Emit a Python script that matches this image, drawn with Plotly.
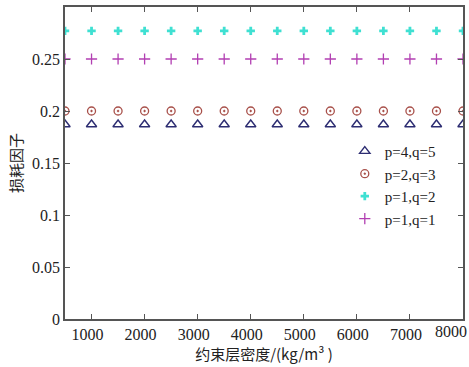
import plotly.graph_objects as go

density = [500, 1000, 1500, 2000, 2500, 3000, 3500, 4000, 4500, 5000, 5500, 6000, 6500, 7000, 7500, 8000]
loss_p4q5 = [0.187] * 16
loss_p2q3 = [0.200] * 16
loss_p1q2 = [0.277] * 16
loss_p1q1 = [0.250] * 16

x_ticks = [1000, 2000, 3000, 4000, 5000, 6000, 7000, 8000]
x_ticklabels = ["1000", "2000", "3000", "4000", "5000", "6000", "7000", "8000"]
y_ticks = [0, 0.05, 0.1, 0.15, 0.2, 0.25]
y_ticklabels = ["0", "0.05", "0.1", "0.15", "0.2", "0.25"]

SERIF = "Times New Roman, Liberation Serif, DejaVu Serif, serif"
CJK = "Noto Sans CJK SC, sans-serif"

fig = go.Figure()
fig.add_trace(go.Scatter(x=density, y=loss_p4q5, mode="markers", name="p=4,q=5",
                         marker=dict(symbol="triangle-up-open", size=9, color="#2d2d72", line=dict(width=1.4))))
fig.add_trace(go.Scatter(x=density, y=loss_p2q3, mode="markers", name="p=2,q=3",
                         marker=dict(symbol="circle-open-dot", size=8, color="#a8504a", line=dict(width=1.3))))
fig.add_trace(go.Scatter(x=density, y=loss_p1q2, mode="markers", name="p=1,q=2",
                         marker=dict(symbol="cross", size=7, color="#3fe0d2", line=dict(width=0))))
fig.add_trace(go.Scatter(x=density, y=loss_p1q1, mode="markers", name="p=1,q=1",
                         marker=dict(symbol="cross-thin-open", size=8, color="#b23fb2", line=dict(width=1.3))))

tick_font = dict(family=SERIF, size=16, color="#222222")
axis_common = dict(showline=True, linecolor="#555555", linewidth=1.5, mirror="ticks",
                   ticks="inside", ticklen=5, tickcolor="#555555", showgrid=False, zeroline=False,
                   automargin=False, tickfont=tick_font)

# the last tick label sits flush against the right edge (as in the reference), so draw it as an
# annotation anchored on the axis value; the others are regular tick labels
fig.update_xaxes(range=[500, 8000], tickvals=x_ticks, ticktext=x_ticklabels[:-1] + [""],
                 ticklabelshift=-4,
                 title=dict(text="约束层密度/(kg/m³ )", font=dict(family=CJK, size=15, color="#222222"), standoff=2),
                 **axis_common)
fig.update_yaxes(range=[0, 0.3], tickvals=y_ticks, ticktext=y_ticklabels,
                 title=dict(text="损耗因子", font=dict(family=CJK, size=15, color="#222222"), standoff=6),
                 **axis_common)

fig.add_annotation(x=x_ticks[-1], xref="x", y=0, yref="paper", text=x_ticklabels[-1],
                   showarrow=False, xanchor="right", yanchor="top", xshift=5, yshift=-3,
                   font=tick_font, borderpad=0)

fig.update_layout(
    width=469, height=367,
    margin=dict(l=65, r=6, t=7, b=48, autoexpand=False),
    paper_bgcolor="white", plot_bgcolor="white",
    showlegend=True,
    legend=dict(x=0.703, y=0.59, xanchor="left", yanchor="top",
                bgcolor="rgba(255,255,255,0.8)", borderwidth=0,
                font=dict(family=SERIF, size=15, color="#222222"),
                tracegroupgap=0, itemsizing="trace"),
)

fig.write_html("out.html", config={"displayModeBar": False},
               post_script="document.body.style.margin='0';document.body.style.padding='0';")
